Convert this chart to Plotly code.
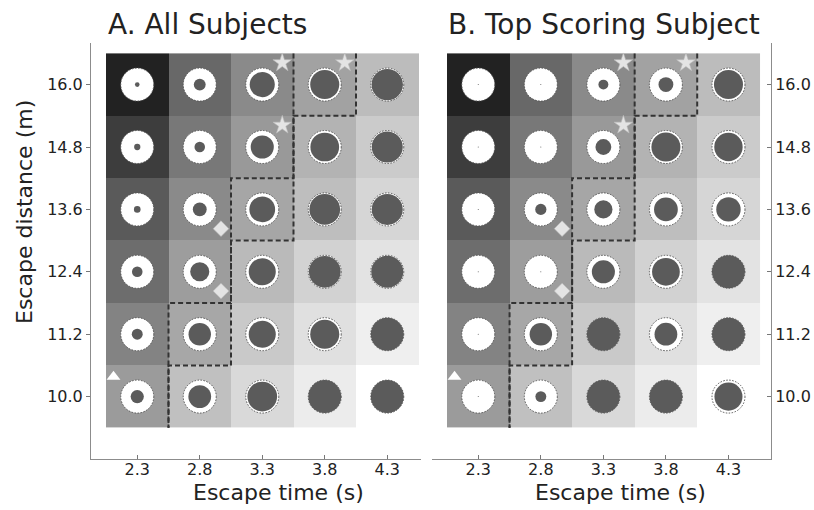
import plotly.graph_objects as go

# ---------------- data ----------------
times = [2.3, 2.8, 3.3, 3.8, 4.3]                    # escape time (s), columns
distances = [16.0, 14.8, 13.6, 12.4, 11.2, 10.0]     # escape distance (m), rows top -> bottom
x_tick_labels = ["2.3", "2.8", "3.3", "3.8", "4.3"]
y_tick_labels = ["16.0", "14.8", "13.6", "12.4", "11.2", "10.0"]

# background cell lightness (0 = black, 255 = white), rows top -> bottom
cell_gray = [
    [34, 104, 138, 162, 188],
    [61, 120, 153, 179, 203],
    [90, 138, 166, 190, 214],
    [109, 157, 186, 210, 227],
    [131, 167, 201, 224, 239],
    [155, 192, 217, 236, 255],
]

# inner dark circle size as fraction of the white circle, rows top -> bottom
inner_all = [
    [0.14, 0.36, 0.76, 0.88, 0.95],
    [0.19, 0.32, 0.70, 0.87, 0.94],
    [0.20, 0.42, 0.78, 0.93, 0.94],
    [0.32, 0.58, 0.82, 0.96, 0.97],
    [0.33, 0.68, 0.82, 0.88, 1.00],
    [0.40, 0.69, 0.90, 1.00, 1.00],
]
inner_top = [
    [0.03, 0.03, 0.30, 0.45, 0.88],
    [0.03, 0.03, 0.48, 0.88, 0.86],
    [0.03, 0.34, 0.55, 0.72, 0.74],
    [0.03, 0.03, 0.70, 0.84, 1.00],
    [0.03, 0.68, 1.00, 0.69, 1.00],
    [0.03, 0.33, 1.00, 1.00, 0.85],
]

# dashed boundaries: per row (top -> bottom), the column whose left edge is the boundary
boundary_1 = [3.8, 3.8, 3.8, 3.3, 2.8, 2.8]
boundary_2 = [4.3, 3.8, 3.3, 3.3, 3.3, 2.8]

star_cells = [(3.3, 16.0), (3.8, 16.0), (3.3, 14.8)]
diamond_cells = [(2.8, 13.6), (2.8, 12.4)]
triangle_cells = [(2.3, 10.0)]

# ---------------- styling ----------------
W, H = 814, 510
FONT = "DejaVu Sans"
OUTER = 33
DARK = "#5b5b5b"
dx_cell = 0.5
dy_cell = 1.2

def px_x(p):
    return p / W

def px_y(p):
    return (H - p) / H

fig = go.Figure()
shapes = []

panels = [
    dict(xa="x", ya="y", inner=inner_all),
    dict(xa="x2", ya="y2", inner=inner_top),
]

for pnl in panels:
    xa, ya = pnl["xa"], pnl["ya"]
    fig.add_trace(go.Heatmap(
        x=times, y=distances[::-1],
        z=[[g / 255 for g in row] for row in cell_gray[::-1]],
        zmin=0, zmax=1,
        colorscale=[[0, "rgb(0,0,0)"], [1, "rgb(255,255,255)"]],
        showscale=False, hoverinfo="skip", xaxis=xa, yaxis=ya,
    ))
    xs, ys, sizes = [], [], []
    for i, d in enumerate(distances):
        for j, t in enumerate(times):
            xs.append(t); ys.append(d); sizes.append(OUTER * pnl["inner"][i][j])
            shapes.append(dict(
                type="circle", xref=xa, yref=ya, xsizemode="pixel", ysizemode="pixel",
                xanchor=t, yanchor=d, x0=-OUTER / 2, x1=OUTER / 2, y0=-OUTER / 2, y1=OUTER / 2,
                line=dict(color="#555555", width=1, dash="1.5px,1.5px"),
                fillcolor="rgba(0,0,0,0)", layer="above",
            ))
    fig.add_trace(go.Scatter(
        x=xs, y=ys, mode="markers", xaxis=xa, yaxis=ya, hoverinfo="skip",
        marker=dict(size=OUTER, color="white", opacity=1, line=dict(width=0)), showlegend=False,
    ))
    fig.add_trace(go.Scatter(
        x=xs, y=ys, mode="markers", xaxis=xa, yaxis=ya, hoverinfo="skip",
        marker=dict(size=sizes, color=DARK, opacity=1, line=dict(width=0)), showlegend=False,
    ))
    # dashed boundary paths
    for bnd in (boundary_1, boundary_2):
        bx, by = [], []
        for i, d in enumerate(distances):
            xe = bnd[i] - dx_cell / 2
            bx += [xe, xe]
            by += [d + dy_cell / 2, d - dy_cell / 2]
        fig.add_trace(go.Scatter(
            x=bx, y=by, mode="lines", xaxis=xa, yaxis=ya, hoverinfo="skip",
            line=dict(color="#333333", width=2, dash="5px,3px"), showlegend=False,
        ))
    # symbols
    fig.add_trace(go.Scatter(
        x=[c[0] + 0.16 for c in star_cells], y=[c[1] + 0.42 for c in star_cells],
        mode="markers", xaxis=xa, yaxis=ya, hoverinfo="skip", showlegend=False,
        marker=dict(symbol="star", size=14, color="#e4e4e4", opacity=1,
                    line=dict(color="#bcbcbc", width=0.6)),
    ))
    fig.add_trace(go.Scatter(
        x=[c[0] + 0.17 for c in diamond_cells], y=[c[1] - 0.37 for c in diamond_cells],
        mode="markers", xaxis=xa, yaxis=ya, hoverinfo="skip", showlegend=False,
        marker=dict(symbol="diamond", size=12, color="#e4e4e4", opacity=1,
                    line=dict(color="#bcbcbc", width=0.6)),
    ))
    fig.add_trace(go.Scatter(
        x=[c[0] - 0.19 for c in triangle_cells], y=[c[1] + 0.38 for c in triangle_cells],
        mode="markers", xaxis=xa, yaxis=ya, hoverinfo="skip", showlegend=False,
        marker=dict(symbol="triangle-up", size=12, color="white", opacity=1, line=dict(width=0)),
    ))

axis_common = dict(
    showgrid=False, zeroline=False, showline=True, linecolor="#8c8c8c", linewidth=1,
    ticklen=4, tickcolor="#777777", tickfont=dict(family=FONT, size=16, color="#222222"),
)
ydomain = [px_y(459), px_y(43)]
fig.update_layout(
    width=W, height=H, margin=dict(l=0, r=0, t=0, b=0),
    paper_bgcolor="white", plot_bgcolor="white", showlegend=False,
    xaxis=dict(domain=[px_x(91), px_x(421)], range=[1.93, 4.57], anchor="y",
               tickvals=times, ticktext=x_tick_labels, ticks="inside",
               ticklabelstandoff=-4, **axis_common),
    yaxis=dict(domain=ydomain, range=[8.8, 16.8], anchor="x", side="left",
               tickvals=distances, ticktext=y_tick_labels, ticks="outside", **axis_common),
    xaxis2=dict(domain=[px_x(432), px_x(771)], range=[1.93, 4.64], anchor="y2",
                tickvals=times, ticktext=x_tick_labels, ticks="inside",
                ticklabelstandoff=-4, **axis_common),
    yaxis2=dict(domain=ydomain, range=[8.8, 16.8], anchor="x2", side="right",
                tickvals=distances, ticktext=y_tick_labels, ticks="inside", **axis_common),
    shapes=shapes,
    annotations=[
        dict(text="A. All Subjects", xref="paper", yref="paper", x=px_x(106), y=px_y(24),
             xanchor="left", yanchor="middle", showarrow=False,
             font=dict(family=FONT, size=28, color="#222222")),
        dict(text="B. Top Scoring Subject", xref="paper", yref="paper", x=px_x(446), y=px_y(24),
             xanchor="left", yanchor="middle", showarrow=False,
             font=dict(family=FONT, size=28, color="#222222")),
        dict(text="Escape distance (m)", xref="paper", yref="paper", x=px_x(25), y=px_y(212),
             xanchor="center", yanchor="middle", textangle=-90, showarrow=False,
             font=dict(family=FONT, size=22, color="#222222")),
        dict(text="Escape time (s)", xref="paper", yref="paper", x=px_x(278), y=px_y(492),
             xanchor="center", yanchor="middle", showarrow=False,
             font=dict(family=FONT, size=22, color="#222222")),
        dict(text="Escape time (s)", xref="paper", yref="paper", x=px_x(620), y=px_y(492),
             xanchor="center", yanchor="middle", showarrow=False,
             font=dict(family=FONT, size=22, color="#222222")),
    ],
)

fig.write_html("out.html", config={"displayModeBar": False},
               post_script="document.body.style.margin='0';document.body.style.overflow='hidden';")
